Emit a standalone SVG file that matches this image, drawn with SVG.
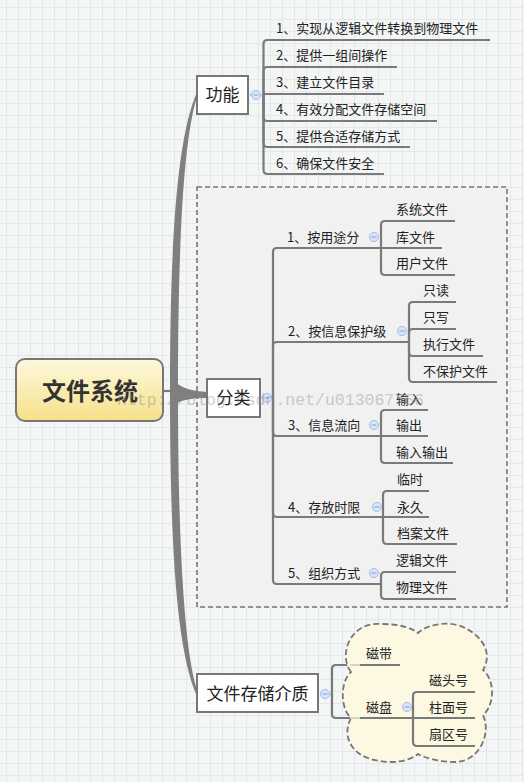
<svg xmlns="http://www.w3.org/2000/svg" xmlns:xlink="http://www.w3.org/1999/xlink" width="524" height="782" viewBox="0 0 524 782">
<style>
.ln{fill:none;stroke:#7a7a7a;stroke-width:2.2}
.pale{fill:none;stroke:#d8d4c2;stroke-width:2.2}
.dot{fill:none;stroke:#8a8a8a;stroke-width:1;stroke-dasharray:1 1}
.trunk{fill:#7f7f7f}
.box{fill:#ffffff;stroke:#777777;stroke-width:2}
.t{font-family:"Noto Sans CJK SC","Noto Sans",sans-serif;font-size:13px;fill:#222222}
.tb{font-family:"Noto Sans CJK SC","Noto Sans",sans-serif;font-size:17px;fill:#222222;text-anchor:middle}
.tc{font-family:"Noto Sans CJK SC","Noto Sans",sans-serif;font-size:24px;font-weight:bold;fill:#333333;text-anchor:middle}
.col circle{fill:#d9e6f9;stroke:#a2bce8;stroke-width:1}
.col line{stroke:#7f9fd8;stroke-width:1}
.wm{font-family:"Liberation Mono",monospace;font-size:16.5px;fill:#8a8a8a;opacity:0.4}
</style>
<defs>
<pattern id="grid" width="12" height="12" patternUnits="userSpaceOnUse">
<rect width="12" height="12" fill="#f4f5f5"/>
<path d="M6.5,0 V12 M0,7.5 H12" stroke="#e3e9eb" stroke-width="1"/>
</pattern>
<linearGradient id="yel" x1="0" y1="0" x2="0" y2="1">
<stop offset="0" stop-color="#fdf8de"/>
<stop offset="1" stop-color="#f6e189"/>
</linearGradient>
<g id="cl" class="col"><circle r="4.5"/><line x1="-2.5" y1="0" x2="2.5" y2="0"/></g>
</defs>

<rect width="524" height="782" fill="url(#grid)"/>

<!-- boundary for 分类 -->
<rect id="boundary" x="197" y="187" width="310" height="420" fill="#f1f1f1" stroke="#777777" stroke-width="1.6" stroke-dasharray="5 3"/>

<g id="connectors">
<path class="ln" d="M163,391 H173"/>
<path class="trunk" d="M170,391 C170,250 176,140 197,92 L197,97 C183,140 178,250 178,391 Z"/>
<path class="trunk" d="M170,391 C170,540 176,650 197,696 L197,690 C184,650 178,540 178,391 Z"/>
<path class="trunk" d="M176,383 C186,390 195,391 207,392 L207,398 C195,398 186,399 176,403 Z"/>

<path class="dot" d="M248,95 H251.5 M260.5,95 H263.5"/>
<path class="ln" d="M263.5,95 V44 Q263.5,40 267.5,40 H490"/>
<path class="ln" d="M263.5,95 V71 Q263.5,67 267.5,67 H397"/>
<path class="ln" d="M263.5,94 H384"/>
<path class="ln" d="M263.5,95 V117 Q263.5,121 267.5,121 H437"/>
<path class="ln" d="M263.5,95 V143 Q263.5,147 267.5,147 H410"/>
<path class="ln" d="M263.5,95 V170 Q263.5,174 267.5,174 H384"/>

<path class="dot" d="M260,398 H262.5 M271.5,398 H273"/>
<path class="ln" d="M273,398 V252 Q273,248 277,248 H381"/>
<path class="ln" d="M273,398 V346 Q273,342 277,342 H409"/>
<path class="ln" d="M273,398 V432 Q273,436 277,436 H381"/>
<path class="ln" d="M273,398 V513 Q273,517 277,517 H383"/>
<path class="ln" d="M273,398 V580 Q273,584 277,584 H381"/>

<path class="ln" d="M381,248 V225 Q381,221 385,221 H455"/>
<path class="ln" d="M381,248 H442"/>
<path class="ln" d="M381,248 V271 Q381,275 385,275 H455"/>

<path class="ln" d="M409,342 V306 Q409,302 413,302 H456"/>
<path class="ln" d="M409,342 V333 Q409,329 413,329 H456"/>
<path class="ln" d="M409,342 V352 Q409,356 413,356 H483"/>
<path class="ln" d="M409,342 V378 Q409,382 413,382 H497"/>

<path class="ln" d="M381,436 V414 Q381,410 385,410 H428"/>
<path class="ln" d="M381,436 H428"/>
<path class="ln" d="M381,436 V459 Q381,463 385,463 H453"/>

<path class="ln" d="M383,517 V495 Q383,491 387,491 H429"/>
<path class="ln" d="M383,517 H429"/>
<path class="ln" d="M383,517 V540 Q383,544 387,544 H457"/>

<path class="ln" d="M381,584 V576 Q381,572 385,572 H456"/>
<path class="ln" d="M381,584 V595 Q381,599 385,599 H456"/>

<path class="dot" d="M318,694 H320.5 M329.5,694 H332"/>
<path class="ln" d="M332,694 V669 Q332,665 336,665 H352"/>
<path class="ln" d="M332,694 V714 Q332,718 336,718 H352"/>
</g>

<g id="cloud">
<path d="M351,672 C338,655 350,622 380,624 C400,624 412,628 418,633 C428,624 450,620 465,628 C485,638 492,655 483,670 C495,680 495,705 483,715 C492,735 478,762 455,762 C440,762 425,758 418,754 C408,762 390,764 375,760 C350,755 342,735 351,718 C340,708 340,682 351,672 Z" fill="#fcf8e1" stroke="#777777" stroke-width="1.8" stroke-dasharray="6 3"/>
<path class="pale" d="M350,665 H360 M350,718 H360"/>
<path class="ln" d="M360,665 H400"/>
<path class="ln" d="M360,718 H413"/>
<path class="ln" d="M413,718 V696 Q413,692 417,692 H475"/>
<path class="ln" d="M413,718 H475"/>
<path class="ln" d="M413,718 V742 Q413,746 417,746 H475"/>
</g>

<g id="root">
<rect x="16" y="359" width="147" height="62" rx="9" fill="url(#yel)" stroke="#777777" stroke-width="2"/>
<text class="tc" x="90" y="400">文件系统</text>
</g>

<g id="gongneng">
<rect class="box" x="197" y="76" width="51" height="38"/>
<text class="tb" x="222.5" y="101">功能</text>
<use href="#cl" x="256" y="95"/>
</g>
<g id="gn1"><text class="t" x="276" y="33">1、实现从逻辑文件转换到物理文件</text></g>
<g id="gn2"><text class="t" x="276" y="60">2、提供一组间操作</text></g>
<g id="gn3"><text class="t" x="276" y="87">3、建立文件目录</text></g>
<g id="gn4"><text class="t" x="276" y="114">4、有效分配文件存储空间</text></g>
<g id="gn5"><text class="t" x="276" y="141">5、提供合适存储方式</text></g>
<g id="gn6"><text class="t" x="276" y="168">6、确保文件安全</text></g>

<g id="fenlei">
<rect class="box" x="207" y="379" width="53" height="38"/>
<text class="tb" x="233.5" y="404">分类</text>
<use href="#cl" x="267" y="398"/>
</g>
<g id="fl1"><text class="t" x="287" y="242">1、按用途分</text><use href="#cl" x="374" y="237"/></g>
<g id="fl1a"><text class="t" x="396" y="214">系统文件</text></g>
<g id="fl1b"><text class="t" x="396" y="242">库文件</text></g>
<g id="fl1c"><text class="t" x="396" y="268">用户文件</text></g>
<g id="fl2"><text class="t" x="288" y="336">2、按信息保护级</text><use href="#cl" x="402" y="331"/></g>
<g id="fl2a"><text class="t" x="423" y="295">只读</text></g>
<g id="fl2b"><text class="t" x="423" y="322">只写</text></g>
<g id="fl2c"><text class="t" x="423" y="349">执行文件</text></g>
<g id="fl2d"><text class="t" x="423" y="376">不保护文件</text></g>
<g id="fl3"><text class="t" x="288" y="430">3、信息流向</text><use href="#cl" x="374" y="425"/></g>
<g id="fl3a"><text class="t" x="396" y="404">输入</text></g>
<g id="fl3b"><text class="t" x="396" y="430">输出</text></g>
<g id="fl3c"><text class="t" x="396" y="457">输入输出</text></g>
<g id="fl4"><text class="t" x="288" y="512">4、存放时限</text><use href="#cl" x="377" y="507"/></g>
<g id="fl4a"><text class="t" x="397" y="484">临时</text></g>
<g id="fl4b"><text class="t" x="397" y="512">永久</text></g>
<g id="fl4c"><text class="t" x="397" y="538">档案文件</text></g>
<g id="fl5"><text class="t" x="288" y="578">5、组织方式</text><use href="#cl" x="374" y="573"/></g>
<g id="fl5a"><text class="t" x="396" y="565">逻辑文件</text></g>
<g id="fl5b"><text class="t" x="396" y="592">物理文件</text></g>

<g id="media">
<rect class="box" x="197" y="674" width="121" height="38"/>
<text class="tb" x="257.5" y="700">文件存储介质</text>
<use href="#cl" x="325" y="694"/>
</g>
<g id="md1"><text class="t" x="366" y="658">磁带</text></g>
<g id="md2"><text class="t" x="366" y="712">磁盘</text><use href="#cl" x="407" y="707"/></g>
<g id="md2a"><text class="t" x="429" y="685">磁头号</text></g>
<g id="md2b"><text class="t" x="429" y="712">柱面号</text></g>
<g id="md2c"><text class="t" x="429" y="739">扇区号</text></g>

<text class="wm" x="117" y="405">http://blog.csdn.net/u013067756</text>
</svg>
